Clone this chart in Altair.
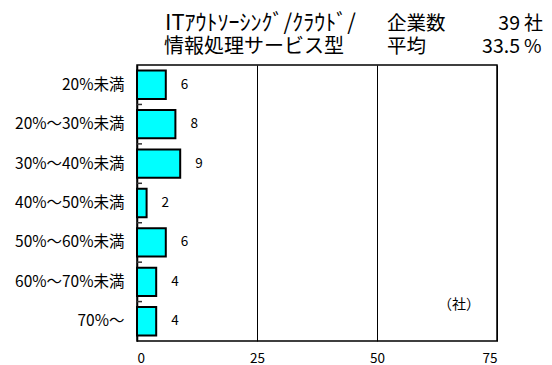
import altair as alt
import pandas as pd

categories = ["20%未満", "20%～30%未満", "30%～40%未満", "40%～50%未満",
              "50%～60%未満", "60%～70%未満", "70%～"]
counts = [6, 8, 9, 2, 6, 4, 4]
x_ticks = [0, 25, 50, 75]

title_line1 = "ITｱｳﾄｿｰｼﾝｸﾞ/ｸﾗｳﾄﾞ/"
title_line2 = "情報処理サービス型"
label_companies = "企業数"
value_companies = "39"
unit_companies = "社"
label_avg = "平均"
value_avg = "33.5"
unit_avg = "%"
unit_note = "（社）"

FONT = "Noto Sans CJK JP"

df = pd.DataFrame({"cat": categories, "n": counts})
df_ticks = pd.DataFrame({"cat": categories[1:]})

yscale = alt.Scale(domain=categories, paddingInner=0.28, paddingOuter=0.14)
xscale = alt.Scale(domain=[0, 75], nice=False)

xenc = alt.X("n:Q", scale=xscale, title=None,
             axis=alt.Axis(values=x_ticks, grid=True, gridColor="black", gridOpacity=1,
                           gridWidth=1, ticks=False, domain=False, labelPadding=10,
                           labelFontSize=13.5, labelFont=FONT, labelColor="black"))

bars = alt.Chart(df).mark_bar(color="#00FFFF", stroke="black", strokeWidth=2).encode(
    x=xenc,
    y=alt.Y("cat:N", sort=categories, scale=yscale, title=None,
            axis=alt.Axis(orient="left", ticks=False, domainColor="black", domainWidth=1.5,
                          labelPadding=13, labelFontSize=15.5, labelFont=FONT,
                          labelColor="black")),
)

labels = alt.Chart(df).mark_text(align="left", baseline="middle", dx=15,
                                 fontSize=13.5, font=FONT, color="black").encode(
    x=alt.X("n:Q", scale=xscale),
    y=alt.Y("cat:N", sort=categories, scale=yscale),
    text="n:Q",
)

inner_ticks = alt.Chart(df_ticks).mark_rule(color="#333333", strokeWidth=1.5).encode(
    x=alt.value(0), x2=alt.value(5),
    y=alt.Y("cat:N", sort=categories, scale=yscale, bandPosition=0),
    yOffset=alt.value(-5.5),
)

def txt(s, x, y, align="left", size=19.5):
    return alt.Chart(pd.DataFrame({"t": [s]})).mark_text(
        align=align, baseline="middle", fontSize=size, font=FONT, color="black"
    ).encode(x=alt.value(x), y=alt.value(y), text="t:N")

annots = [
    txt(title_line1, 28, -42, size=22),
    txt(title_line2, 27, -18, size=20),
    txt(label_companies, 250, -41),
    txt(value_companies, 383, -41, align="right"),
    txt(unit_companies, 387, -41, size=19),
    txt(label_avg, 250, -18),
    txt(value_avg, 383, -18, align="right"),
    txt(unit_avg, 387, -18, size=19),
    txt(unit_note, 322, 240, align="center", size=14),
]

chart = alt.layer(bars, labels, inner_ticks, *annots).properties(
    width=360, height=276,
    autosize=alt.AutoSizeParams(type="none"),
    padding={"left": 129, "top": 57, "right": 47, "bottom": 24},
).configure_view(stroke="black", strokeWidth=1.5)

chart.save("out.html", embed_options={"renderer": "svg", "actions": False})
